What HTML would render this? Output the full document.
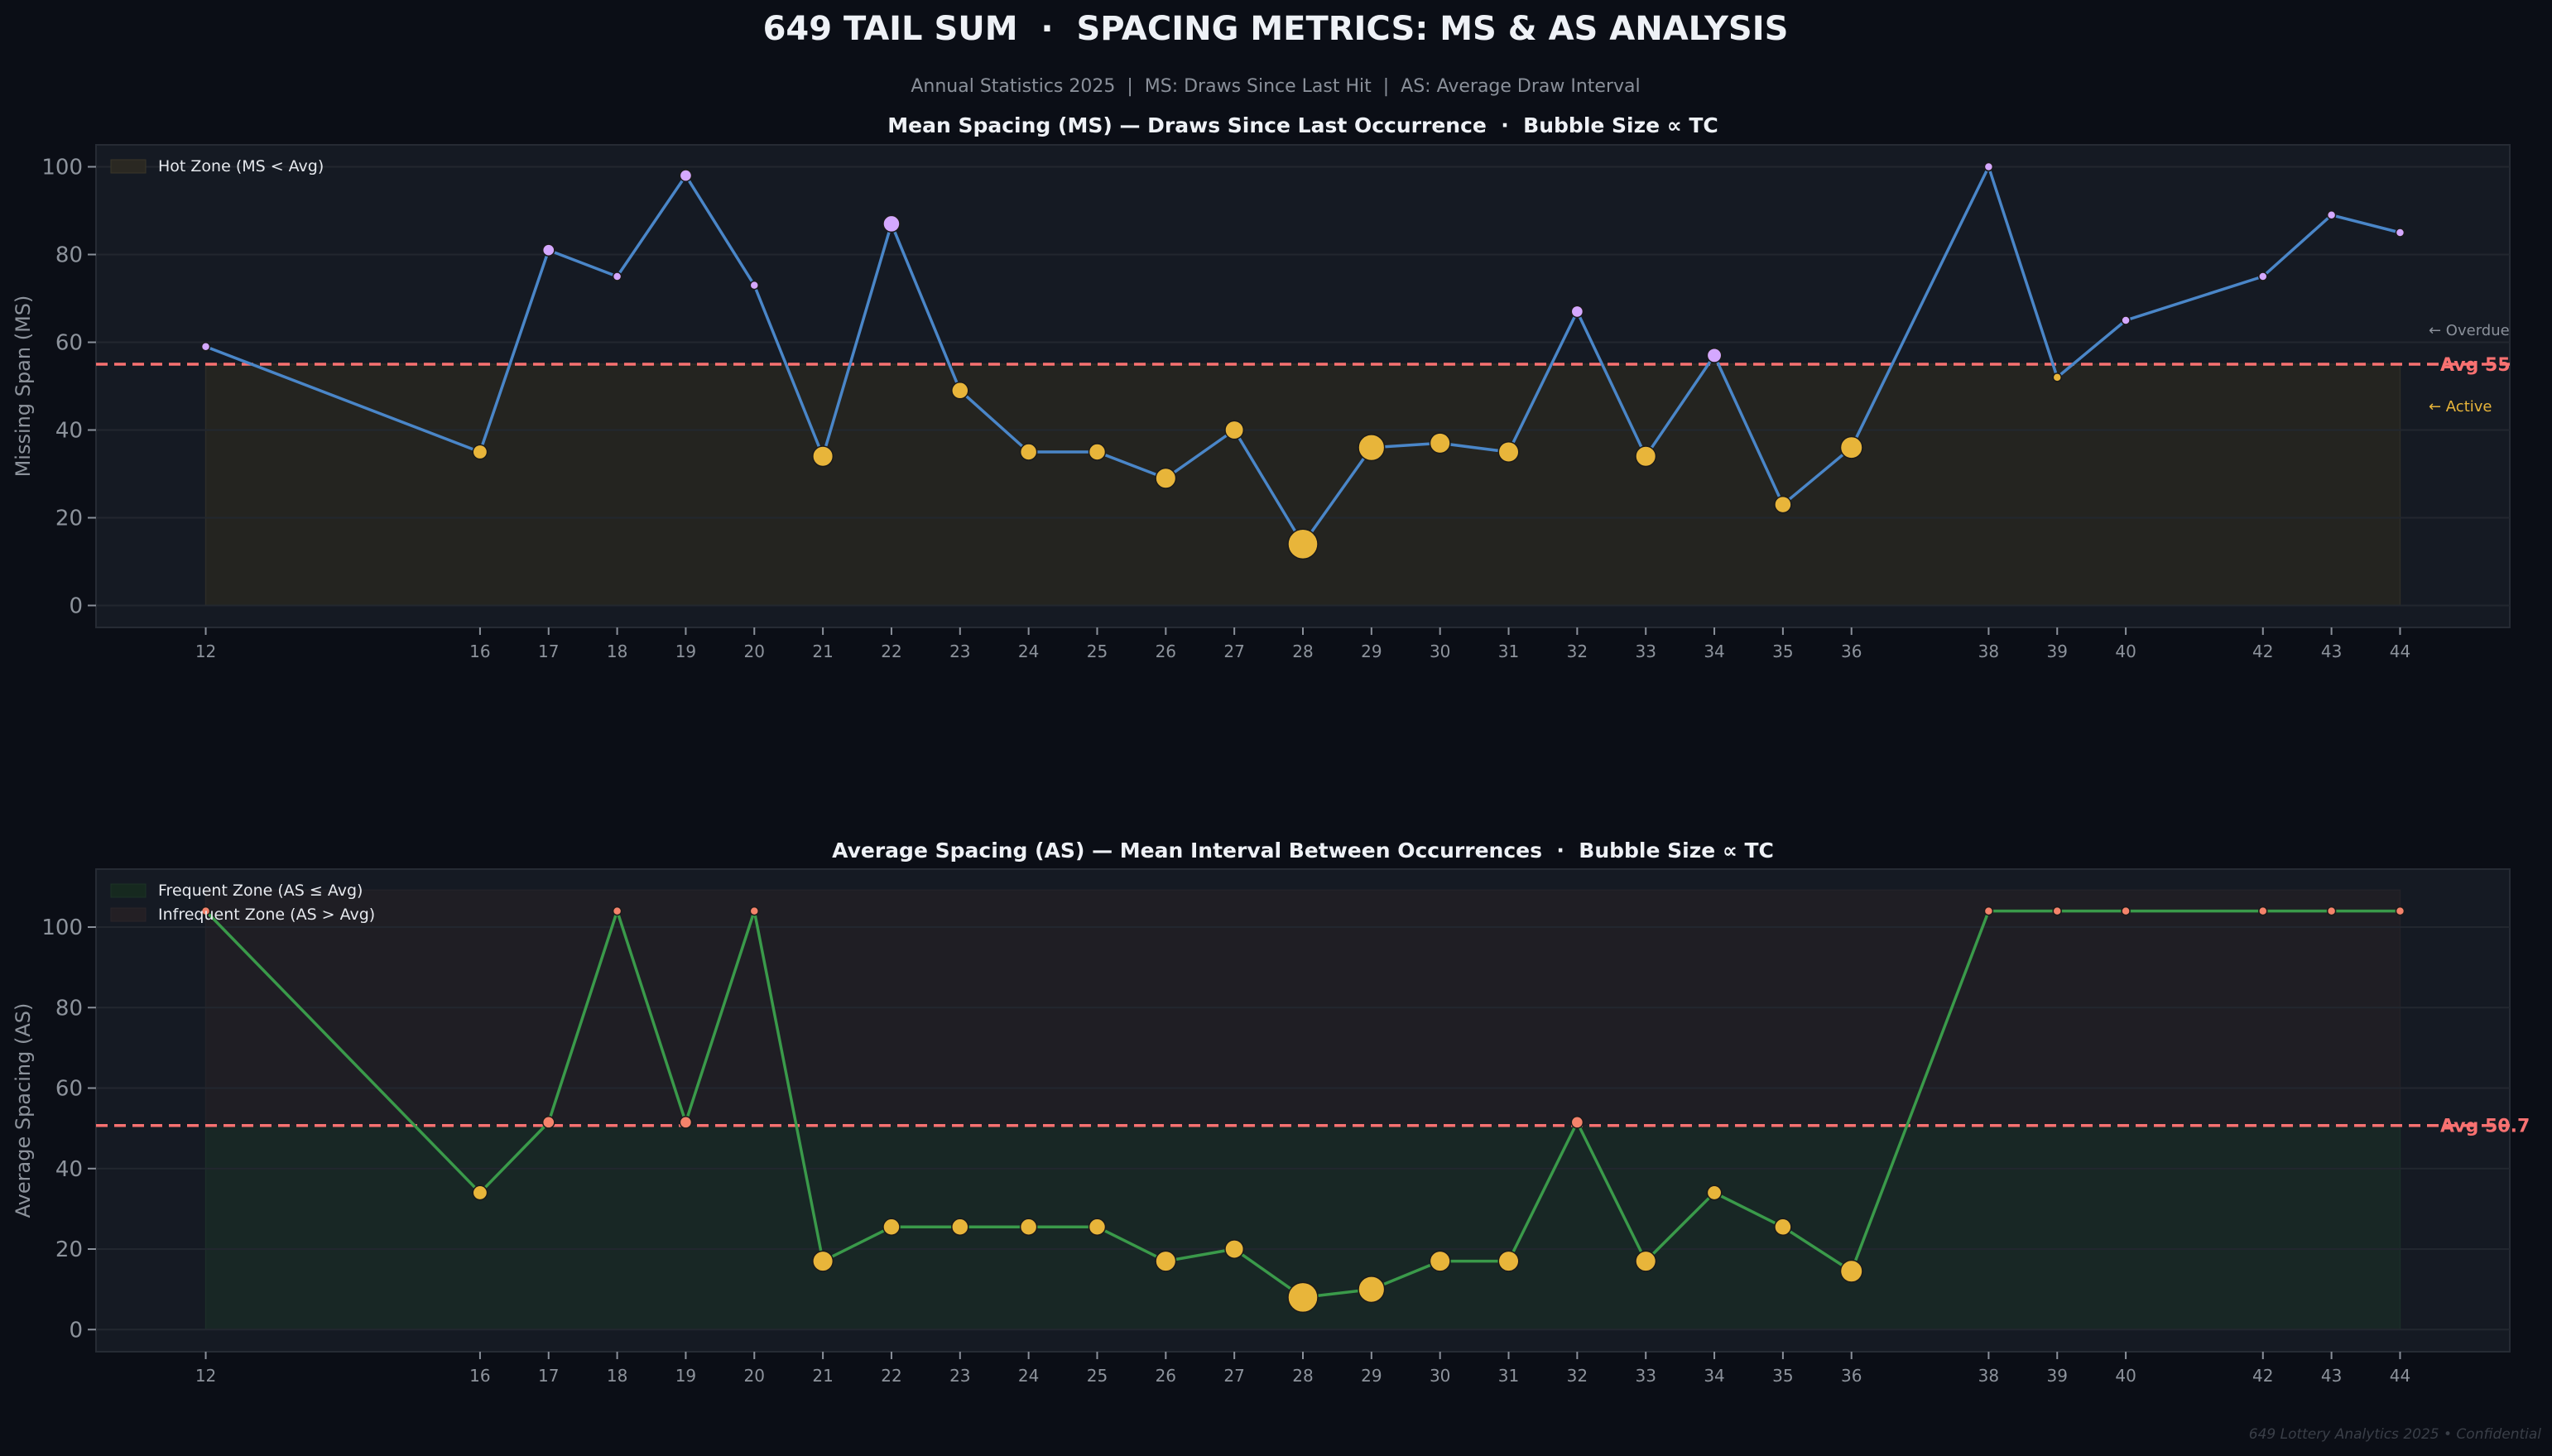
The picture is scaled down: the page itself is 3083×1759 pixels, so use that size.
<!DOCTYPE html>
<html><head><meta charset="utf-8">
<style>
html,body{margin:0;padding:0;background:#0b0e16;}
svg{display:block;font-family:"DejaVu Sans","Liberation Sans",sans-serif;}
svg text{white-space:pre;}
</style></head>
<body>
<svg id="chart" width="3083" height="1759" viewBox="0 0 3083 1759" xmlns="http://www.w3.org/2000/svg" xml:space="preserve">
<rect width="3083" height="1759" fill="#0b0e16"/>
<text x="1541" y="48" text-anchor="middle" font-size="40" font-weight="bold" fill="#eef1f6">649 TAIL SUM  ·  SPACING METRICS: MS &amp; AS ANALYSIS</text>
<text x="1541" y="111" text-anchor="middle" font-size="22" fill="#8a909a">Annual Statistics 2025  |  MS: Draws Since Last Hit  |  AS: Average Draw Interval</text>
<text x="1574" y="160" text-anchor="middle" font-size="25" font-weight="bold" fill="#eef1f6">Mean Spacing (MS) — Draws Since Last Occurrence  ·  Bubble Size ∝ TC</text>
<text x="1574" y="1036" text-anchor="middle" font-size="25" font-weight="bold" fill="#eef1f6">Average Spacing (AS) — Mean Interval Between Occurrences  ·  Bubble Size ∝ TC</text>
<text x="3070" y="1738" text-anchor="end" font-size="17" font-style="italic" fill="#3a3f48">649 Lottery Analytics 2025 • Confidential</text>
<g id="plots"></g>
</svg>
<script>
const tailSums = [12,16,17,18,19,20,21,22,23,24,25,26,27,28,29,30,31,32,33,34,35,36,38,39,40,42,43,44];
const msValues = [59,35,81,75,98,73,34,87,49,35,35,29,40,14,36,37,35,67,34,57,23,36,100,52,65,75,89,85];
const asValues = [104,34,51.5,104,51.5,104,17,25.5,25.5,25.5,25.5,17,20,8,10,17,17,51.5,17,34,25.5,14.5,104,104,104,104,104,104];
const tcValues = [1,3,2,1,2,1,6,4,4,4,4,6,5,13,10,6,6,2,6,3,4,7,1,1,1,1,1,1];
const msAvg = 55;
const asAvg = 50.7;
const yTicks = [0,20,40,60,80,100];

const NS = "http://www.w3.org/2000/svg";
const root = document.getElementById('plots');
function mk(tag, attrs, parent){ const e=document.createElementNS(NS,tag); for(const k in attrs) e.setAttribute(k,attrs[k]); (parent||root).appendChild(e); return e; }

const L=116, R=3032, XMIN=10.4, XMAX=45.6;
const sx = v => L + (v-XMIN)/(XMAX-XMIN)*(R-L);

function panel(cfg){
  const g = mk('g',{});
  
  
  const sy = v => cfg.bot - (v-cfg.ymin)/(cfg.ymax-cfg.ymin)*(cfg.bot-cfg.top);
  const face = mk('rect',{x:L,y:cfg.top,width:R-L,height:cfg.bot-cfg.top,fill:'#151a23',stroke:'#262b34','stroke-width':2},g);
  
  
  const x0=sx(tailSums[0]), x1=sx(tailSums[tailSums.length-1]);
  cfg.zones.forEach(z=>{
    const r=mk('rect',{x:x0,y:sy(z.hi),width:x1-x0,height:sy(z.lo)-sy(z.hi),fill:z.fill,stroke:z.stroke,'stroke-width':1.5},g);
    
    
  });
  yTicks.forEach(t=>{
    const y=sy(t);
    const gl=mk('line',{x1:L,x2:R,y1:y,y2:y,stroke:'#22272f','stroke-width':2},g);
    
    
    mk('line',{x1:L-10,x2:L,y1:y,y2:y,stroke:'#8a909a','stroke-width':2},g);
    const tx=mk('text',{x:L-16,y:y+9,'text-anchor':'end','font-size':26,fill:'#8d939c'},g);
    tx.textContent=t;
    
    
  });
  tailSums.forEach(t=>{
    const x=sx(t);
    mk('line',{x1:x,x2:x,y1:cfg.bot,y2:cfg.bot+9,stroke:'#8a909a','stroke-width':2},g);
    const tx=mk('text',{x:x,y:cfg.bot+36,'text-anchor':'middle','font-size':20,fill:'#8d939c'},g);
    tx.textContent=t;
    
    
  });
  const yt=mk('text',{x:0,y:0,transform:`translate(${36},${(cfg.top+cfg.bot)/2}) rotate(-90)`,'text-anchor':'middle','font-size':24,fill:'#8d939c'},g);
  yt.textContent=cfg.ytitle;
  
  
  const ay=sy(cfg.avg);
  const al=mk('line',{x1:L,x2:R,y1:ay,y2:ay,stroke:'#f87171','stroke-width':3.5,'stroke-dasharray':'14 8'},g);
  
  
  const at=mk('text',{x:2948,y:ay+8,'font-size':22,'font-weight':'bold',fill:'#f87171'},g);
  at.textContent='Avg '+cfg.avg;
  
  
  const vals=cfg.values;
  const pts=tailSums.map((t,i)=>sx(t)+','+sy(vals[i])).join(' ');
  const pl=mk('polyline',{points:pts,fill:'none',stroke:cfg.lineColor,'stroke-width':3.5,'stroke-linejoin':'round'},g);
  
  
  tailSums.forEach((t,i)=>{
    const c=mk('circle',{cx:sx(t),cy:sy(vals[i]),r:5*Math.sqrt(tcValues[i]),fill:vals[i]>cfg.avg?cfg.hiColor:'#e8b53a',stroke:'#1a1a1a','stroke-width':1.5},g);
    
    
  });
  cfg.legend.forEach((lg,i)=>{
    const y=cfg.top+18+i*29;
    mk('rect',{x:134,y:y,width:42,height:16,fill:lg.fill,stroke:lg.stroke,'stroke-width':1},g);
    const lt=mk('text',{x:191,y:y+14,'font-size':19,fill:'#e6e9ee'},g);
    lt.textContent=lg.label;
    
    
  });
  return {g,sy};
}

const p1=panel({name:'ms-panel',top:175,bot:758,ymin:-5,ymax:105,values:msValues,avg:msAvg,lineColor:'#4a86c8',hiColor:'#d4a8ff',
  ytitle:'Missing Span (MS)',
  zones:[{name:'hot-zone',lo:0,hi:msAvg,fill:'#242420',stroke:'#2e2d27'}],
  legend:[{label:'Hot Zone (MS < Avg)',fill:'#2a2822',stroke:'#3a3628'}]});
const ov=mk('text',{x:2934,y:p1.sy(msAvg)-35,'font-size':18,fill:'#8a909a'},p1.g);
ov.textContent='← Overdue';


const ac=mk('text',{x:2934,y:p1.sy(msAvg)+57,'font-size':18,fill:'#e8b53a'},p1.g);
ac.textContent='← Active';



panel({name:'as-panel',top:1050,bot:1633,ymin:-5.5,ymax:114.4,values:asValues,avg:asAvg,lineColor:'#3a9a4a',hiColor:'#f4836b',
  ytitle:'Average Spacing (AS)',
  zones:[{name:'frequent-zone',lo:0,hi:asAvg,fill:'#182725',stroke:'#1c2e28'},{name:'infrequent-zone',lo:asAvg,hi:109.2,fill:'#1f1e24',stroke:'#232228'}],
  legend:[{label:'Frequent Zone (AS ≤ Avg)',fill:'#16291f',stroke:'#1c3326'},{label:'Infrequent Zone (AS > Avg)',fill:'#231f24',stroke:'#2a2429'}]});
</script>
</body></html>
